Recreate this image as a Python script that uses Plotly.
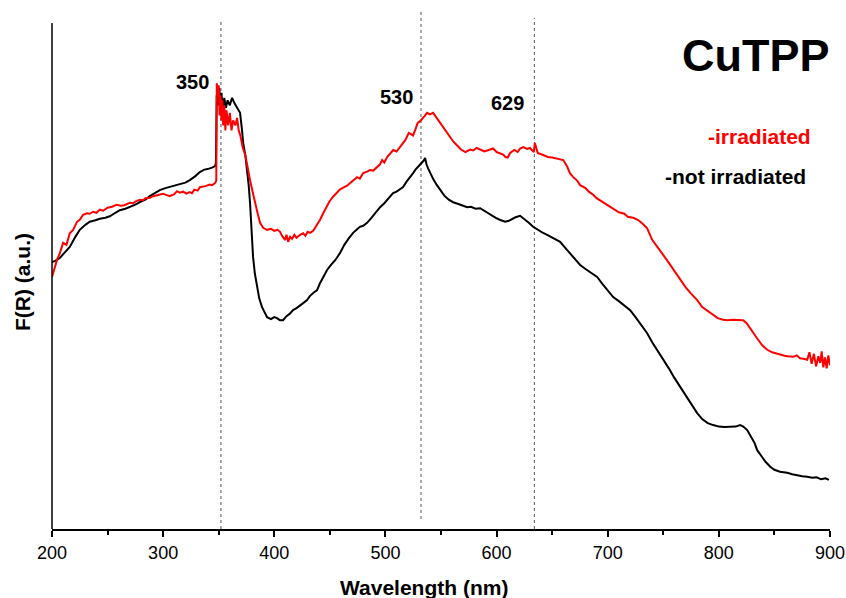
import plotly.graph_objects as go

# ---------------- data (wavelength in nm, F(R) in arbitrary units) ----------------
wl_not_irr = [200, 203, 207, 211, 216, 221, 225, 230, 234, 239, 243, 248, 252, 257, 261, 266, 270, 275,
              279, 284, 288, 293, 297, 302, 306, 311, 315, 320, 324, 329, 333, 337, 340, 344, 346.7, 347.5,
              348.2, 349.5, 350.5, 351.5, 352.5, 353.5, 355, 356.5, 358, 360, 362, 364, 366.5, 368, 369.2,
              371, 372, 374, 375.5, 377, 378.2, 379.5, 380.9, 382.5, 384.5, 386.5, 389, 391, 393.5, 397,
              400, 402.5, 405, 407.9, 411, 414, 416.9, 420, 423, 426, 429.5, 432, 435, 438.5, 441, 444,
              447.5, 451, 455, 459.2, 463, 467, 470.9, 474, 477, 480, 483.5, 487, 491, 495.2, 499, 503,
              506.9, 510, 513, 515.9, 519, 522, 524.9, 527, 529.5, 531, 533, 534.5, 535.7, 537, 538.5,
              540.2, 543, 546, 549.2, 553, 557, 560.9, 565, 569, 573.5, 577, 581, 585.2, 589, 593, 596.9,
              600, 604, 607.7, 611, 614, 617, 621.2, 625, 629, 632.9, 637, 641, 645.5, 649, 653, 657.2,
              661, 665, 668.9, 672, 675.2, 680, 685, 690.5, 695, 700, 704.9, 710, 715, 720.2, 725, 730,
              735.5, 740, 745, 749.9, 755, 760, 765.2, 770, 775, 780.5, 785, 790, 794.9, 800, 805, 810,
              815, 819.2, 822, 825.5, 829, 832, 834.5, 838, 842, 846.2, 850, 855, 861.5, 866, 870, 875,
              879.5, 884, 888, 892, 896, 899]
fr_not_irr = [0.528, 0.530, 0.536, 0.545, 0.558, 0.578, 0.592, 0.602, 0.608, 0.611, 0.614, 0.616, 0.619,
              0.626, 0.631, 0.634, 0.637, 0.642, 0.647, 0.652, 0.659, 0.665, 0.671, 0.675, 0.677, 0.680,
              0.683, 0.686, 0.691, 0.699, 0.707, 0.712, 0.713, 0.716, 0.719, 0.725, 0.860, 0.840, 0.875,
              0.840, 0.865, 0.830, 0.855, 0.835, 0.850, 0.840, 0.855, 0.845, 0.835, 0.830, 0.825, 0.790,
              0.765, 0.740, 0.711, 0.680, 0.645, 0.590, 0.538, 0.505, 0.478, 0.455, 0.438, 0.428, 0.418,
              0.414, 0.418, 0.416, 0.412, 0.412, 0.420, 0.425, 0.432, 0.436, 0.442, 0.446, 0.452, 0.460,
              0.466, 0.472, 0.485, 0.498, 0.512, 0.522, 0.532, 0.546, 0.562, 0.575, 0.586, 0.592, 0.598,
              0.600, 0.606, 0.615, 0.626, 0.637, 0.645, 0.656, 0.665, 0.668, 0.673, 0.677, 0.688, 0.696,
              0.705, 0.712, 0.718, 0.722, 0.725, 0.730, 0.735, 0.722, 0.714, 0.705, 0.693, 0.682, 0.671,
              0.660, 0.652, 0.647, 0.644, 0.640, 0.637, 0.638, 0.634, 0.635, 0.630, 0.624, 0.618, 0.615,
              0.611, 0.608, 0.610, 0.614, 0.617, 0.620, 0.614, 0.606, 0.598, 0.592, 0.587, 0.582, 0.578,
              0.573, 0.568, 0.558, 0.548, 0.538, 0.530, 0.522, 0.514, 0.506, 0.498, 0.485, 0.472, 0.458,
              0.450, 0.441, 0.432, 0.418, 0.402, 0.386, 0.368, 0.351, 0.333, 0.316, 0.297, 0.279, 0.262,
              0.245, 0.227, 0.215, 0.207, 0.203, 0.200, 0.199, 0.199, 0.200, 0.203, 0.200, 0.193, 0.180,
              0.168, 0.153, 0.141, 0.130, 0.120, 0.114, 0.110, 0.108, 0.105, 0.103, 0.101, 0.100, 0.098,
              0.099, 0.095, 0.097, 0.094]

wl_irr = [200, 202, 204.5, 207, 210, 213, 216, 219, 222.5, 225, 228, 231.5, 234, 237, 240, 243, 246, 250,
          254, 258, 262, 265, 268, 270, 273, 275, 279, 282, 284, 288, 291, 293, 297, 300, 302, 306, 308,
          310, 312.5, 315, 318, 321, 324, 326, 328, 331, 333, 336, 338, 342, 344, 346.7, 347.8, 348.3,
          349.2, 350.0, 350.8, 351.6, 352.4, 353.2, 354.0, 355.0, 356.0, 357.0, 358.5, 360.0, 361.5,
          363.0, 365.0, 366.5, 368.0, 369.5, 371.5, 374, 376, 378.2, 380.5, 382.7, 385, 387.2, 390,
          393.5, 397, 400, 403, 405.2, 407, 409.7, 411, 412.5, 414.2, 416, 418, 420, 423.2, 426, 428,
          430, 432.2, 435, 438, 441.2, 444, 447, 449.5, 452.9, 456, 459, 462, 465.5, 468, 471, 474.5,
          477, 480, 483.5, 486, 489, 492.5, 495, 497, 499, 501.5, 504, 507, 510, 513.2, 515.9, 518,
          521, 524.9, 527, 529, 531, 533, 535, 537.5, 540, 542.9, 546, 549, 551.9, 555, 558, 561,
          564.5, 568, 572, 576.2, 579, 582, 585.2, 589, 593, 596.9, 600, 603, 605.9, 608, 610, 612.2,
          616, 619, 621.2, 624, 627.5, 630, 632.5, 633.5, 634.5, 637, 641.9, 646, 650, 654, 657.2,
          660, 663.5, 666, 669, 672.5, 675.2, 680, 683, 686.9, 690, 695, 700, 704.9, 710, 715, 718,
          722.9, 727, 731, 735.5, 740, 745, 749.9, 755, 760, 765.2, 770, 775, 780.5, 785, 790, 794.9,
          799, 803.9, 808, 812, 816, 821.9, 825, 828, 830.9, 835, 839, 843.5, 848, 852, 855.2, 859,
          862, 866.9, 870, 873, 876, 879.5, 881.5, 883.5, 885.5, 887.5, 889.5, 891.2, 892.5, 894,
          895.5, 897, 898.5, 900]
fr_irr = [0.498, 0.515, 0.532, 0.545, 0.566, 0.562, 0.585, 0.592, 0.608, 0.612, 0.622, 0.625, 0.624,
          0.628, 0.626, 0.632, 0.630, 0.636, 0.638, 0.642, 0.640, 0.641, 0.644, 0.646, 0.645, 0.648,
          0.652, 0.651, 0.655, 0.656, 0.659, 0.660, 0.661, 0.664, 0.662, 0.659, 0.661, 0.663, 0.669,
          0.666, 0.668, 0.664, 0.667, 0.665, 0.672, 0.670, 0.677, 0.678, 0.679, 0.682, 0.681, 0.685,
          0.690, 0.884, 0.860, 0.880, 0.820, 0.860, 0.810, 0.850, 0.800, 0.840, 0.790, 0.830, 0.800,
          0.825, 0.790, 0.810, 0.800, 0.815, 0.790, 0.780, 0.757, 0.740, 0.715, 0.691, 0.668, 0.645,
          0.625, 0.606, 0.596, 0.592, 0.594, 0.590, 0.592, 0.588, 0.580, 0.572, 0.582, 0.568, 0.578,
          0.574, 0.582, 0.576, 0.582, 0.585, 0.580, 0.588, 0.586, 0.590, 0.600, 0.612, 0.625, 0.638,
          0.648, 0.658, 0.665, 0.672, 0.676, 0.680, 0.685, 0.690, 0.697, 0.694, 0.705, 0.708, 0.711,
          0.710, 0.716, 0.722, 0.731, 0.726, 0.737, 0.744, 0.751, 0.748, 0.758, 0.764, 0.771, 0.785,
          0.780, 0.792, 0.805, 0.808, 0.812, 0.818, 0.825, 0.822, 0.825, 0.815, 0.805, 0.795, 0.786,
          0.777, 0.768, 0.760, 0.752, 0.747, 0.752, 0.750, 0.755, 0.752, 0.748, 0.751, 0.754, 0.747,
          0.745, 0.742, 0.737, 0.736, 0.745, 0.751, 0.747, 0.754, 0.757, 0.753, 0.755, 0.748, 0.747,
          0.765, 0.745, 0.741, 0.737, 0.736, 0.734, 0.732, 0.731, 0.718, 0.705, 0.697, 0.690, 0.681,
          0.675, 0.668, 0.662, 0.655, 0.648, 0.640, 0.634, 0.627, 0.624, 0.618, 0.616, 0.612, 0.605,
          0.595, 0.572, 0.558, 0.542, 0.526, 0.510, 0.494, 0.478, 0.465, 0.452, 0.438, 0.430, 0.422,
          0.416, 0.413, 0.412, 0.413, 0.412, 0.412, 0.406, 0.396, 0.386, 0.374, 0.362, 0.353, 0.348,
          0.345, 0.343, 0.341, 0.340, 0.339, 0.342, 0.336, 0.335, 0.333, 0.348, 0.325, 0.345, 0.320,
          0.340, 0.327, 0.350, 0.318, 0.338, 0.316, 0.342, 0.322, 0.334]

peak_labels = ["350", "530", "629"]
peak_label_x = [326, 510, 610]
peak_label_y = [0.886, 0.857, 0.845]
peak_lines_x = [352, 532, 634]
peak_lines_top = [1.006, 1.030, 1.014]
peak_lines_bottom = [-0.004, 0.016, -0.004]

title_text = "CuTPP"
legend_texts = ["-irradiated", "-not irradiated"]
legend_colors = ["#ff0000", "#000000"]

FONT = "Liberation Sans, Arial, Helvetica, sans-serif"
Y0, Y1 = -0.004, 1.0339

fig = go.Figure()
fig.add_trace(go.Scatter(x=wl_not_irr, y=fr_not_irr, mode="lines",
                         line=dict(color="#000000", width=2), name="not irradiated"))
fig.add_trace(go.Scatter(x=wl_irr, y=fr_irr, mode="lines",
                         line=dict(color="#ff0000", width=2), name="irradiated"))

shapes = []
for xv, yt, yb in zip(peak_lines_x, peak_lines_top, peak_lines_bottom):
    shapes.append(dict(type="line", xref="x", yref="y", x0=xv, x1=xv, y0=yb, y1=yt,
                       line=dict(color="#555555", width=1, dash="3px,3px"), layer="below"))
# y axis line (stops a little below the top of the frame)
shapes.append(dict(type="line", xref="paper", yref="y", x0=0, x1=0, y0=Y0, y1=1.004,
                   line=dict(color="#000000", width=1.5)))

annotations = []
for t, xv, yv in zip(peak_labels, peak_label_x, peak_label_y):
    annotations.append(dict(text="<b>%s</b>" % t, x=xv, y=yv, xref="x", yref="y",
                            showarrow=False, font=dict(size=20, color="#000000", family=FONT)))
annotations.append(dict(text="<b>%s</b>" % title_text, x=833, y=0.940, xref="x", yref="y",
                        showarrow=False, font=dict(size=45, color="#000000", family=FONT)))
annotations.append(dict(text="<b>%s</b>" % legend_texts[0], x=837, y=0.777, xref="x", yref="y",
                        showarrow=False, font=dict(size=21, color=legend_colors[0], family=FONT)))
annotations.append(dict(text="<b>%s</b>" % legend_texts[1], x=815, y=0.698, xref="x", yref="y",
                        showarrow=False, font=dict(size=21, color=legend_colors[1], family=FONT)))
annotations.append(dict(text="<b>Wavelength (nm)</b>", x=535, y=-0.113, xref="x", yref="paper",
                        showarrow=False, yanchor="middle",
                        font=dict(size=21, color="#000000", family=FONT)))
annotations.append(dict(text="<b>F(R) (a.u.)</b>", x=-0.0386, y=0.488, xref="paper", yref="y",
                        showarrow=False, textangle=-90, xanchor="center", yanchor="middle",
                        font=dict(size=21, color="#000000", family=FONT)))

fig.update_layout(
    width=846, height=598,
    margin=dict(l=52, r=16, t=8, b=69, autoexpand=False),
    paper_bgcolor="white", plot_bgcolor="white",
    showlegend=False,
    shapes=shapes, annotations=annotations,
    font=dict(family=FONT, color="#000000"),
)
fig.update_xaxes(range=[200, 900], showgrid=False, zeroline=False, automargin=False,
                 showline=True, linecolor="#000000", linewidth=2,
                 ticks="outside", ticklen=6, tickwidth=1.5, tickcolor="#000000",
                 tick0=200, dtick=100, tickfont=dict(size=18, family=FONT, color="#000000"),
                 minor=dict(ticks="outside", ticklen=4, tickwidth=1.5, tickcolor="#000000", dtick=50))
fig.update_yaxes(range=[Y0, Y1], showgrid=False, zeroline=False, showline=False, automargin=False,
                 showticklabels=False, ticks="")

fig.write_html("out.html")
